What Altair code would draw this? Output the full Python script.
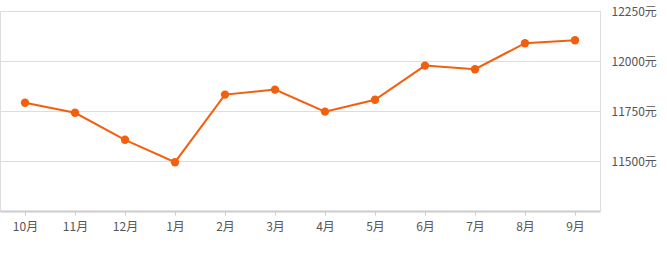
import altair as alt
import pandas as pd

months = ["10月", "11月", "12月", "1月", "2月", "3月", "4月", "5月", "6月", "7月", "8月", "9月"]
prices = [11791, 11741, 11606, 11494, 11832, 11857, 11747, 11806, 11977, 11959, 12089, 12104]
y_ticks = [11500, 11750, 12000, 12250]

df = pd.DataFrame({"month": months, "price": prices})

font = "Noto Sans CJK SC"
color = "#f2600f"

x = alt.X("month:N", sort=months,
          scale=alt.Scale(paddingInner=0, paddingOuter=0),
          axis=alt.Axis(title=None, labelAngle=0, labelFont=font, labelFontSize=12,
                        labelColor="#555555", labelPadding=6, tickSize=4, tickColor="#cccccc",
                        domainColor="#cccccc", domainWidth=2, grid=False))
y = alt.Y("price:Q", scale=alt.Scale(domain=[11250, 12250], nice=False, zero=False),
          axis=alt.Axis(title=None, orient="right", values=y_ticks, labelExpr="datum.value + '元'",
                        labelFont=font, labelFontSize=12, labelColor="#555555", labelPadding=11,
                        ticks=False, domainColor="#dddddd", gridColor="#dddddd", gridWidth=1))

base = alt.Chart(df).encode(x=x, y=y)
line = base.mark_line(color=color, strokeWidth=2)
pts = base.mark_circle(color=color, size=70, opacity=1)

chart = (line + pts).properties(
    width=600, height=200,
    autosize=alt.AutoSizeParams(type="none"),
    padding={"left": 0, "top": 11, "right": 67, "bottom": 47},
).configure_view(stroke=None).configure(background="white")

chart.save("out.html", embed_options={"renderer": "svg", "actions": False})
